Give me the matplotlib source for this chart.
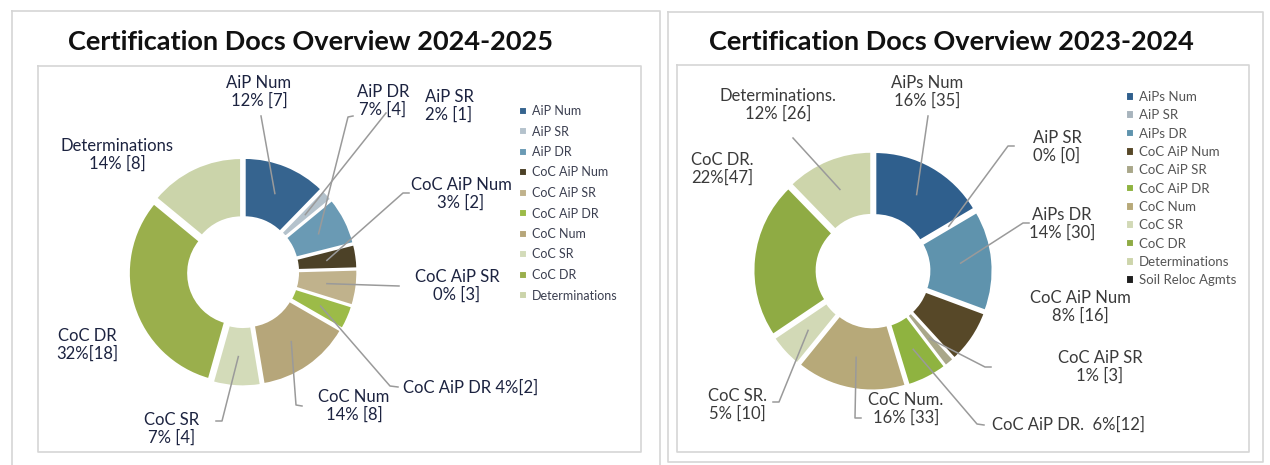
"""Two donut charts: certification docs overview, 2024-2025 vs 2023-2024."""

import matplotlib
matplotlib.use("Agg")
import matplotlib.pyplot as plt
import numpy as np

W, H = 1270, 465
plt.rcParams["font.family"] = ["Lato", "DejaVu Sans"]

# ---- 2024-2025 ----
cats_25 = ["AiP Num", "AiP SR", "AiP DR", "CoC AiP Num", "CoC AiP SR",
           "CoC AiP DR", "CoC Num", "CoC SR", "CoC DR", "Determinations"]
vals_25 = [7, 1, 4, 2, 3, 2, 8, 4, 18, 8]
labels_25 = ["AiP Num\n12% [7]", "AiP SR\n2% [1]", "AiP DR\n7% [4]",
             "CoC AiP Num\n3% [2]", "CoC AiP SR\n0% [3]", "CoC AiP DR 4%[2]",
             "CoC Num\n14% [8]", "CoC SR\n7% [4]", "CoC DR\n32%[18]",
             "Determinations\n14% [8]"]
colors_25 = ["#36648f", "#b4c2cc", "#6a9ab4", "#4c4127", "#c0b28c",
             "#9cbb48", "#b6a67a", "#d3dbb9", "#9aaf4c", "#cbd4aa"]

# ---- 2023-2024 ----
cats_24 = ["AiPs Num", "AiP SR", "AiPs DR", "CoC AiP Num", "CoC AiP SR",
           "CoC AiP DR", "CoC Num", "CoC SR", "CoC DR", "Determinations",
           "Soil Reloc Agmts"]
vals_24 = [35, 0, 30, 16, 3, 12, 33, 10, 47, 26, 0]
labels_24 = ["AiPs Num\n16% [35]", "AiP SR\n0% [0]", "AiPs DR\n14% [30]",
             "CoC AiP Num\n8% [16]", "CoC AiP SR\n1% [3]", "CoC AiP DR.  6%[12]",
             "CoC Num.\n16% [33]", "CoC SR.\n5% [10]", "CoC DR.\n22%[47]",
             "Determinations.\n12% [26]", None]
colors_24 = ["#2f5f8d", "#a8b4bd", "#5f93ad", "#574828", "#a9a789",
             "#8fb340", "#b7a979", "#d2d9b6", "#8fab44", "#cdd5ab", "#1e1e1e"]

# label placement in pixels: (text x, text y, ha, leader path from slice)
place_25 = [
    (259, 92, "center", [(261, 116)]),
    (449, 106, "center", [(386, 113)]),
    (383, 101, "center", [(348, 117), (353, 116)]),
    (461, 194, "center", [(403, 193), (409, 193)]),
    (457, 286, "center", [(399, 286)]),
    (403, 388, "left", [(390, 386), (398, 387)]),
    (354, 406, "center", [(296, 405), (302, 406)]),
    (172, 429, "center", [(222, 421), (216, 421)]),
    (87, 345, "center", None),
    (117, 155, "center", None),
]
place_24 = [
    (927, 92, "center", [(928, 116)]),
    (1057, 147, "center", [(1008, 146), (1014, 146)]),
    (1062, 224, "center", [(1023, 223), (1029, 223)]),
    (1080, 307, "center", None),
    (1100, 367, "center", [(985, 367), (991, 367)]),
    (992, 425, "left", [(977, 424), (984, 425)]),
    (906, 409, "center", [(855, 418), (861, 418)]),
    (737, 405, "center", [(779, 402), (773, 402)]),
    (722, 169, "center", None),
    (778, 105, "center", [(793, 138)]),
    None,
]

fig = plt.figure(figsize=(W / 100, H / 100), dpi=100)
bg = fig.add_axes([0, 0, 1, 1], zorder=2)
bg.set_xlim(0, W)
bg.set_ylim(H, 0)
bg.axis("off")
bg.patch.set_alpha(0)

# panel frames
for x0, y0, x1, y1 in [(12, 11, 660, 470), (38, 66, 641, 452),
                       (668, 12, 1263, 462), (677, 65, 1249, 452)]:
    bg.plot([x0, x1, x1, x0, x0], [y0, y0, y1, y1, y0], color="#d6d6d6", lw=1.2)

bg.text(310, 42, "Certification Docs Overview 2024-2025", ha="center", va="center",
        fontsize=19.5, fontweight="bold", color="#111111")
bg.text(951, 42, "Certification Docs Overview 2023-2024", ha="center", va="center",
        fontsize=19.5, fontweight="bold", color="#111111")


def donut(cx, cy, r_px, width, vals, colors, cats, labels, place, txt_color,
          leg_xy, leg_fs, leg_spacing, leg_color):
    s = 2.5 * r_px
    ax = fig.add_axes([(cx - s / 2) / W, (H - cy - s / 2) / H, s / W, s / H], zorder=1)
    wedges, _ = ax.pie(vals, colors=colors, startangle=90, counterclock=False,
                       explode=[0.04] * len(vals),
                       wedgeprops=dict(width=width, edgecolor="white", linewidth=1.5))
    to_bg = bg.transData.inverted()
    for w, lab, pl in zip(wedges, labels, place):
        if lab is None:
            continue
        tx, ty, ha, path = pl
        bg.text(tx, ty, lab, ha=ha, va="center", fontsize=12, color=txt_color,
                linespacing=1.1, multialignment="center")
        if path:
            ang = np.deg2rad((w.theta1 + w.theta2) / 2)
            rm = w.r - w.width / 2
            p = (w.center[0] + rm * np.cos(ang), w.center[1] + rm * np.sin(ang))
            sx, sy = to_bg.transform(ax.transData.transform(p))
            xs = [sx] + [q[0] for q in path]
            ys = [sy] + [q[1] for q in path]
            bg.plot(xs, ys, color="#9a9a9a", lw=1.1)
    ax.legend(wedges, cats, loc="upper left",
              bbox_to_anchor=(leg_xy[0] / W, 1 - leg_xy[1] / H),
              bbox_transform=fig.transFigure, frameon=False, fontsize=leg_fs,
              handlelength=0.6, handleheight=0.6, handletextpad=0.4,
              borderpad=0, borderaxespad=0, labelspacing=leg_spacing,
              labelcolor=leg_color)
    return ax


donut(243, 272, 110, 0.54, vals_25, colors_25, cats_25, labels_25, place_25,
      "#1c2340", (519, 105), 9, 0.68, "#3b3f50")
donut(873, 271, 115, 0.55, vals_24, colors_24, cats_24, labels_24, place_24,
      "#3a3a3a", (1126, 91), 9.5, 0.48, "#555555")

fig.savefig("out.png", dpi=100, facecolor="white")
